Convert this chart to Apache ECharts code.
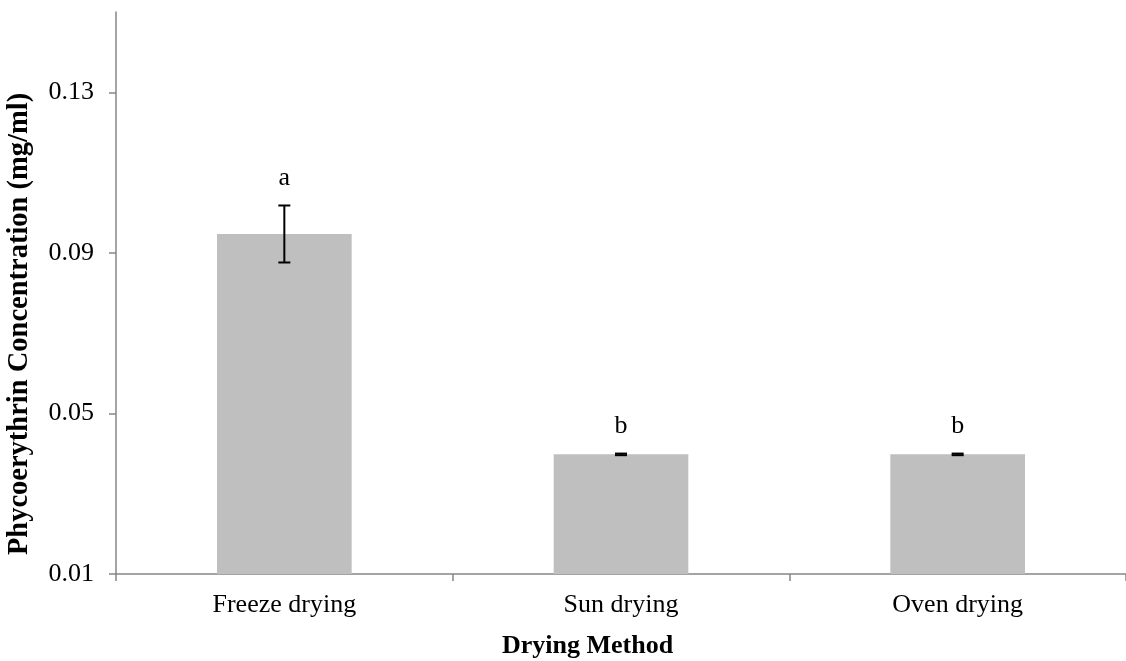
<!DOCTYPE html>
<html>
<head>
<meta charset="utf-8">
<script src="https://cdn.jsdelivr.net/npm/echarts@6/dist/echarts.min.js"></script>
<style>
html,body{margin:0;padding:0;background:#fff;}
#chart{width:1126px;height:661px;}
</style>
</head>
<body>
<div id="chart"></div>
<script>
const categories = ['Freeze drying', 'Sun drying', 'Oven drying'];
const means = [0.0947, 0.0398, 0.0398];
const errors = [0.0071, 0.0002, 0.0002];
const letters = ['a', 'b', 'b'];
const yTicks = [0.01, 0.05, 0.09, 0.13];

const FONT = 'Liberation Serif';
const chart = echarts.init(document.getElementById('chart'));

const errData = categories.map((c, i) => [i, means[i] - errors[i], means[i] + errors[i], letters[i]]);

chart.setOption({
  animation: false,
  grid: { left: 116, top: 12, width: 1017, height: 562, containLabel: false },
  xAxis: {
    type: 'category',
    data: categories,
    axisLine: { lineStyle: { color: '#868686', width: 1.5 } },
    axisTick: { show: true, length: 7, alignWithLabel: false, lineStyle: { color: '#868686', width: 1.5 } },
    axisLabel: { color: '#000', fontFamily: FONT, fontSize: 26, margin: 18 },
    splitLine: { show: false }
  },
  yAxis: {
    type: 'value',
    min: 0.01,
    max: 0.15,
    axisLine: { show: true, lineStyle: { color: '#868686', width: 1.5 } },
    axisTick: { show: true, length: 7, customValues: yTicks, lineStyle: { color: '#868686', width: 1.5 } },
    axisLabel: { color: '#000', fontFamily: FONT, fontSize: 26, margin: 22, customValues: yTicks,
      formatter: v => v.toFixed(2) },
    splitLine: { show: false }
  },
  series: [
    {
      type: 'bar',
      data: means,
      barWidth: '40%',
      itemStyle: { color: '#BFBFBF' }
    },
    {
      type: 'custom',
      data: errData,
      z: 10,
      renderItem: function (params, api) {
        const x = api.coord([api.value(0), api.value(1)])[0];
        const yLow = api.coord([api.value(0), api.value(1)])[1];
        const yHigh = api.coord([api.value(0), api.value(2)])[1];
        const half = 6;
        const style = { stroke: '#000', lineWidth: 2 };
        return {
          type: 'group',
          children: [
            { type: 'line', shape: { x1: x, y1: yLow, x2: x, y2: yHigh }, style: style },
            { type: 'line', shape: { x1: x - half, y1: yLow, x2: x + half, y2: yLow }, style: style },
            { type: 'line', shape: { x1: x - half, y1: yHigh, x2: x + half, y2: yHigh }, style: style },
            { type: 'text', x: x, y: yHigh - 27,
              style: { text: letters[params.dataIndex], fill: '#000', font: '26px "Liberation Serif"',
                align: 'center', verticalAlign: 'middle' } }
          ]
        };
      }
    }
  ],
  graphic: [
    { type: 'text', left: 588 - 86, top: 633,
      style: { text: 'Drying Method', fill: '#000', font: 'bold 26px "Liberation Serif"' } },
    { type: 'text', x: 20, y: 324, rotation: Math.PI / 2,
      style: { text: 'Phycoerythrin Concentration (mg/ml)', fill: '#000', font: 'bold 28.5px "Liberation Serif"',
        align: 'center', verticalAlign: 'middle' } }
  ]
});
</script>
</body>
</html>
